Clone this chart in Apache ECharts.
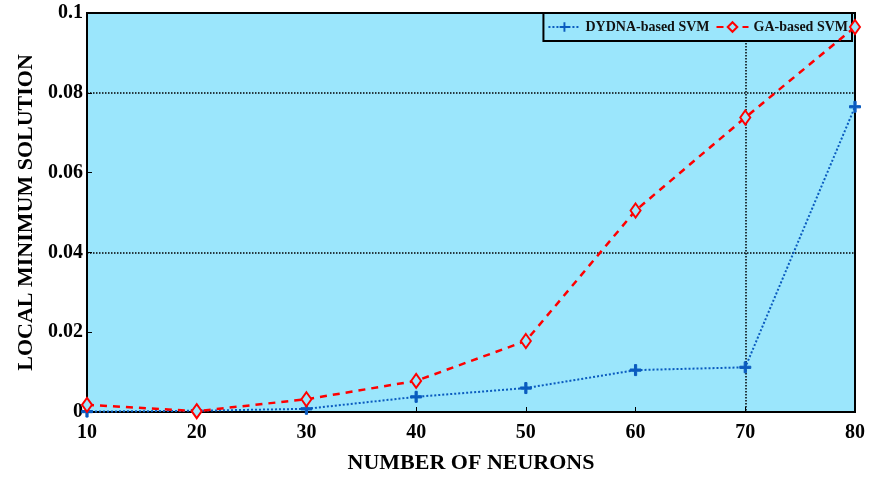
<!DOCTYPE html>
<html><head><meta charset="utf-8">
<script src="https://cdn.jsdelivr.net/npm/echarts@6/dist/echarts.min.js"></script>
<style>html,body{margin:0;padding:0;background:#fff;overflow:hidden}#c{width:873px;height:479px}</style>
</head><body><div id="c"></div>
<script>
const categories = [10, 20, 30, 40, 50, 60, 70, 80];
const dydnaValues = [0.0001, 0.0003, 0.0008, 0.0038, 0.006, 0.0105, 0.0112, 0.0765];
const gaValues = [0.0018, 0.0002, 0.0032, 0.0078, 0.0178, 0.0505, 0.0738, 0.0965];
const yTicks = [0, 0.02, 0.04, 0.06, 0.08, 0.1];
const seriesNames = ['DYDNA-based SVM', 'GA-based SVM'];

const chart = echarts.init(document.getElementById('c'));
const font = 'Liberation Serif';
chart.setOption({
  animation: false,
  grid: {left: 87, right: 18, top: 13, bottom: 65, show: true, backgroundColor: '#9be6fc', borderColor: '#000', borderWidth: 2},
  legend: {
    right: 21, top: 13, orient: 'horizontal', itemGap: 6, itemWidth: 32, itemHeight: 12,
    backgroundColor: '#9be6fc', borderColor: '#000', borderWidth: 2, padding: [7, 4],
    textStyle: {fontFamily: font, fontWeight: 'bold', fontSize: 14, color: '#111'},
    data: seriesNames
  },
  xAxis: {
    type: 'value', min: 10, max: 80, interval: 10,
    name: 'NUMBER OF NEURONS', nameLocation: 'middle', nameGap: 40,
    nameTextStyle: {fontFamily: font, fontWeight: 'bold', fontSize: 22, color: '#000'},
    axisLine: {lineStyle: {color: '#000', width: 2}},
    axisTick: {inside: true, length: 5, lineStyle: {color: '#000'}},
    axisLabel: {fontFamily: font, fontWeight: 'bold', fontSize: 20, color: '#000', margin: 11},
    splitLine: {show: true, lineStyle: {type: 'dotted', width: 1.5, color: ['transparent','transparent','transparent','transparent','transparent','transparent','#000','transparent']}}
  },
  yAxis: {
    type: 'value', min: 0, max: 0.1, interval: 0.02,
    name: 'LOCAL MINIMUM SOLUTION', nameLocation: 'middle', nameGap: 47,
    nameTextStyle: {fontFamily: font, fontWeight: 'bold', fontSize: 22, color: '#000'},
    axisLine: {show: true, lineStyle: {color: '#000', width: 2}},
    axisTick: {show: true, inside: true, length: 5, lineStyle: {color: '#000'}},
    axisLabel: {fontFamily: font, fontWeight: 'bold', fontSize: 20, color: '#000', margin: 4,
      formatter: v => { const t = yTicks.find(x => Math.abs(x - v) < 1e-9); return t === undefined ? '' : String(+t.toFixed(2)); }},
    splitLine: {show: true, lineStyle: {type: 'dotted', width: 1.5, color: ['transparent','transparent','#000','transparent','#000','transparent']}}
  },
  series: [
    {
      name: seriesNames[0], type: 'line',
      data: categories.map((c, i) => [c, dydnaValues[i]]),
      lineStyle: {color: '#0a5bbf', width: 2, type: 'dotted'},
      itemStyle: {color: '#0a5bbf', borderColor: '#0a5bbf'},
      symbol: 'path://M4,0 L6,0 L6,4 L10,4 L10,6 L6,6 L6,10 L4,10 L4,6 L0,6 L0,4 L4,4 Z',
      symbolSize: 11, z: 3
    },
    {
      name: seriesNames[1], type: 'line',
      data: categories.map((c, i) => [c, gaValues[i]]),
      lineStyle: {color: '#ff0000', width: 2.5, type: [7, 6]},
      itemStyle: {color: '#9be6fc', borderColor: '#ff0000', borderWidth: 2},
      symbol: 'diamond', symbolSize: [10, 14], z: 4
    }
  ]
});
</script></body></html>
